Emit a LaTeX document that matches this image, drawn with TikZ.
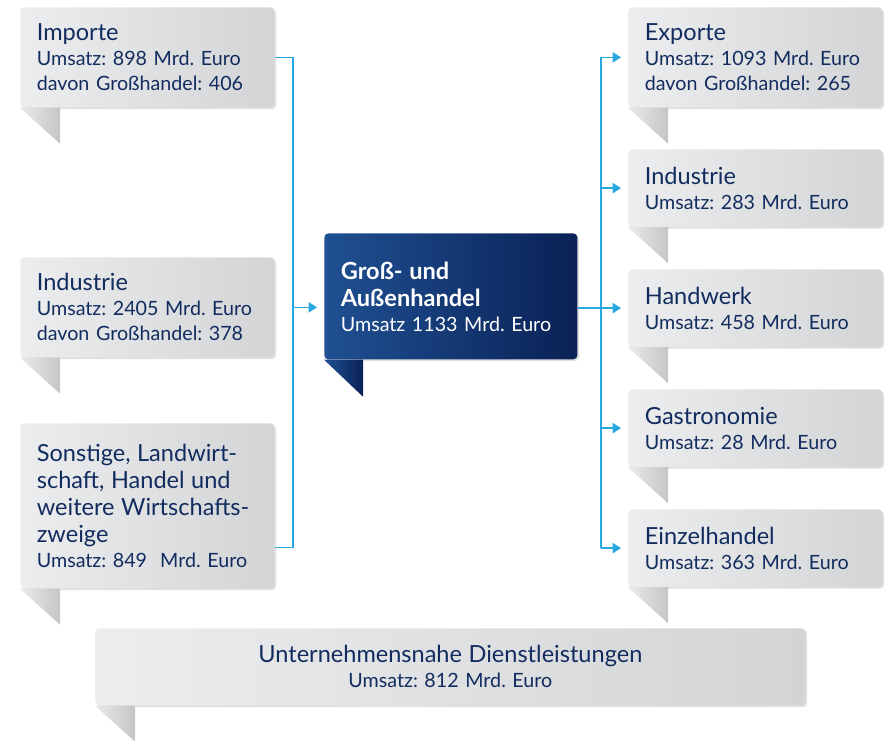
\documentclass[tikz,border=0pt]{standalone}
\usepackage{fontspec}
\setmainfont{Lato}
\frenchspacing
\usetikzlibrary{arrows.meta,shadows}

\definecolor{navy}{RGB}{18,44,96}
\definecolor{boxleft}{RGB}{236,237,238}
\definecolor{boxright}{RGB}{211,212,214}
\definecolor{tailleft}{RGB}{234,235,236}
\definecolor{tailright}{RGB}{196,197,199}
\definecolor{mainleft}{RGB}{31,80,146}
\definecolor{mainright}{RGB}{10,33,86}
\definecolor{cyanline}{RGB}{38,168,224}

\newcommand{\boxtitle}[1]{{\fontsize{13.4}{15.4}\selectfont #1\par}}

\tikzset{
  infobox/.style={rectangle, rounded corners=0.8mm, anchor=north west,
    left color=boxleft, right color=boxright, text=navy, align=left,
    inner xsep=3.3mm, inner ysep=0pt, text width=44.2mm,
    font={\fontsize{11.2}{14.2}\selectfont\parindent=0pt},
    drop shadow={shadow xshift=0.35mm, shadow yshift=-0.35mm, opacity=0.25}},
  mainbox/.style={infobox, left color=mainleft, right color=mainright, text=white},
  tail/.style={left color=tailleft, right color=tailright},
  bus/.style={draw=cyanline, line width=0.75pt},
  feed/.style={bus, -{Triangle[length=1.7mm,width=2.1mm]}, shorten >=1.4mm},
}

\begin{document}
\begin{tikzpicture}[x=0.2mm, y=-0.2mm]
  \useasboundingbox (0,0) rectangle (886,740);

  % suppliers
  \node[infobox, minimum height=20mm] (imp) at (20,7)
    {\boxtitle{Importe}Umsatz: 898 Mrd. Euro\\davon Großhandel: 406};
  \node[infobox, minimum height=20mm] (indl) at (20,257)
    {\boxtitle{Industrie}Umsatz: 2405 Mrd. Euro\\davon Großhandel: 378};
  \node[infobox, minimum height=33mm] (sonst) at (20,423)
    {\boxtitle{Sonstige, Landwirt-\\schaft, Handel und\\weitere Wirtschafts-\\zweige}Umsatz: 849~~Mrd. Euro};

  % wholesale
  \node[mainbox, minimum height=25.2mm, text width=44mm] (main) at (324,233)
    {\boxtitle{\bfseries Groß- und\\Außenhandel}Umsatz 1133 Mrd. Euro};

  % customers
  \begin{scope}[every node/.style={text width=44mm}]
    \node[infobox, minimum height=20mm] (exp) at (628,7)
      {\boxtitle{Exporte}Umsatz: 1093 Mrd. Euro\\davon Großhandel: 265};
    \node[infobox, minimum height=15.5mm] (indr) at (628,149)
      {\boxtitle{Industrie}Umsatz: 283 Mrd. Euro};
    \node[infobox, minimum height=15.5mm] (hand) at (628,269)
      {\boxtitle{Handwerk}Umsatz: 458 Mrd. Euro};
    \node[infobox, minimum height=15.5mm] (gastro) at (628,389)
      {\boxtitle{Gastronomie}Umsatz: 28 Mrd. Euro};
    \node[infobox, minimum height=15.5mm] (einzel) at (628,509)
      {\boxtitle{Einzelhandel}Umsatz: 363 Mrd. Euro};
  \end{scope}

  \node[infobox, align=center, text width=135.4mm, minimum height=15.4mm] (dienst) at (95,628)
    {\boxtitle{Unternehmensnahe Dienstleistungen}Umsatz: 812 Mrd. Euro};

  % tails under the boxes
  \foreach \b in {imp,indl,sonst,exp,indr,hand,gastro,einzel,dienst}
    \path[tail] (\b.south west) -- ++(40,0) -- ++(0,36) -- cycle;
  \path[tail, left color=mainleft, right color=mainright]
    (main.south west) -- ++(39,0) -- ++(0,37) -- cycle;

  % connectors
  \coordinate (lbus) at (293,0);
  \coordinate (rbus) at (601,0);
  \coordinate (sonstin) at ([yshift=-8.3mm]sonst.east);
  \draw[bus] (imp.east) -- (imp.east -| lbus) -- (sonstin -| lbus) -- (sonstin);
  \draw[feed] (indl.east -| lbus) -- (indl.east -| main.west);
  \draw[bus] (hand.west -| main.east) -- (hand.west -| rbus);
  \draw[bus] (exp.west -| rbus) -- (einzel.west -| rbus);
  \foreach \r in {exp,indr,hand,gastro,einzel}
    \draw[feed] (\r.west -| rbus) -- (\r.west);
\end{tikzpicture}
\end{document}
